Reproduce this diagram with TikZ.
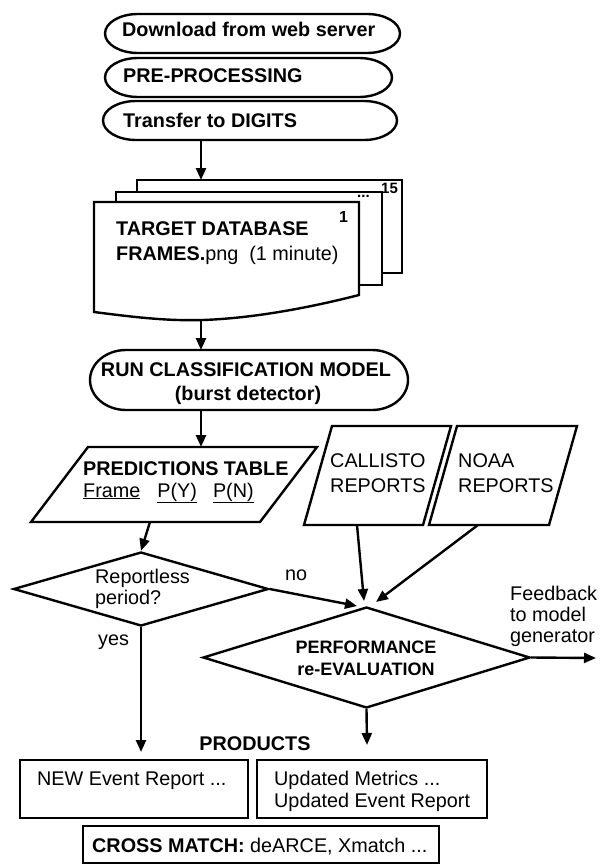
\documentclass[tikz,border=0pt]{standalone}
\usepackage{fontspec}
\setmainfont{Liberation Sans}
\usetikzlibrary{shapes.geometric,arrows.meta}
\begin{document}
\begin{tikzpicture}[x=1pt,y=-1pt,
  lw/.style={line width=2.4pt},
  txt/.style={inner sep=0pt,anchor=base west,font=\fontsize{19.8}{23}\selectfont},
  btxt/.style={inner sep=0pt,anchor=base west,font=\fontsize{19.8}{23}\selectfont\bfseries},
  dia/.style={draw,lw,diamond,inner sep=0pt},
  box/.style={draw,lw,rectangle,inner sep=0pt,fill=white},
  arr/.style={lw,-{Triangle[length=12pt,width=10pt]}},
]
\useasboundingbox (0,0) rectangle (601,864);

% top terminators
\draw[lw] (138,14) -- (367,14) arc[start angle=270,end angle=450,x radius=33,y radius=19.5]
  -- (138,53) arc[start angle=90,end angle=270,x radius=33,y radius=19.5] -- cycle;
\draw[lw] (138,58) -- (359,58) arc[start angle=270,end angle=450,x radius=33,y radius=19.5]
  -- (138,97) arc[start angle=90,end angle=270,x radius=33,y radius=19.5] -- cycle;
\draw[lw] (136,101) -- (364,101) arc[start angle=270,end angle=450,x radius=33,y radius=19.5]
  -- (136,140) arc[start angle=90,end angle=270,x radius=33,y radius=19.5] -- cycle;
\coordinate (t3bot) at (201,140);
\node[btxt] (t1txt) at (122,37) {Download from web server};
\node[btxt] (t2txt) at (123,83) {PRE-PROCESSING};
\node[btxt] (t3txt) at (123,128) {Transfer to DIGITS};

% document stack
\node[box,minimum width=265pt,minimum height=93pt] (page3) at (269.5,226.5) {};
\node[box,minimum width=266pt,minimum height=93pt] (page2) at (249,238.5) {};
\draw[lw,fill=white] (94,202) -- (359,202) -- (359,295)
  .. controls (320,305) and (260,318) .. (203,320)
  .. controls (170,321) and (140,318) .. (94,312) -- cycle;
\coordinate (stacktop) at (201,180);
\coordinate (frontbot) at (201,320);
\node[btxt,font=\fontsize{15}{16}\selectfont\bfseries] (n15) at (381,193) {15};
\node[btxt,font=\fontsize{15}{16}\selectfont\bfseries] (ndots) at (357,197) {...};
\node[btxt,font=\fontsize{16}{17}\selectfont\bfseries] (n1) at (339,222) {1};
\node[btxt] (tdb1) at (116,235) {TARGET DATABASE};
\node[txt] (tdb2) at (116,260) {\textbf{FRAMES.}png\ \ (1 minute)};

% classification
\draw[lw] (126,350) -- (372,350) arc[start angle=270,end angle=450,x radius=36,y radius=30]
  -- (126,410) arc[start angle=90,end angle=270,x radius=36,y radius=30] -- cycle;
\coordinate (clstop) at (201,350);
\coordinate (clsbot) at (201,410);
\node[btxt,anchor=base] (cls1) at (246,376) {RUN CLASSIFICATION MODEL};
\node[btxt,anchor=base] (cls2) at (248,400) {(burst detector)};

% predictions table
\draw[lw] (31,522) -- (88,447) -- (317,447) -- (260,522) -- cycle;
\coordinate (predtop) at (201,447);
\coordinate (predbot) at (150,522);
\node[btxt] (pt1) at (83,475) {PREDICTIONS TABLE};
\node[txt] (pt2) at (83,497) {\underline{Frame}\hspace{17pt}\underline{P(Y)}\hspace{16pt}\underline{P(N)}};

% reports
\draw[lw] (304,525) -- (332,426) -- (451,426) -- (423,525) -- cycle;
\draw[lw] (429,525) -- (457,426) -- (577,426) -- (549,525) -- cycle;
\coordinate (calbot) at (357,525);
\coordinate (noaabot) at (478,525);
\node[txt] (cal1) at (330,467) {CALLISTO};
\node[txt] (cal2) at (330,492) {REPORTS};
\node[txt] (noaa1) at (458,467) {NOAA};
\node[txt] (noaa2) at (458,492) {REPORTS};

% reportless diamond
\node[dia,minimum width=255pt,minimum height=74pt] (rep) at (141,589) {};
\node[txt] (rep1) at (95,583) {Reportless};
\node[txt] (rep2) at (95,604) {period?};
\node[txt] (no) at (285,580) {no};
\node[txt] (yes) at (98,645) {yes};

% performance diamond
\node[dia,minimum width=327pt,minimum height=101pt] (perf) at (366.5,657.5) {};
\node[btxt,anchor=base,font=\fontsize{18}{21}\selectfont\bfseries] (perf1) at (366,653) {PERFORMANCE};
\node[btxt,anchor=base,font=\fontsize{18}{21}\selectfont\bfseries] (perf2) at (366,675) {re-EVALUATION};
\coordinate (pin1) at (357,606);
\coordinate (pin2) at (364,601);
\coordinate (pin3) at (376,602);
\coordinate (fbend) at (596,658);
\node[txt] (fb1) at (510,600) {Feedback};
\node[txt] (fb2) at (510,621) {to model};
\node[txt] (fb3) at (510,642) {generator};

% products
\node[btxt,anchor=base] (prod) at (255,750) {PRODUCTS};
\node[box,minimum width=228pt,minimum height=58pt] (newbox) at (134,789) {};
\node[box,minimum width=230pt,minimum height=58pt] (updbox) at (372,789) {};
\node[box,minimum width=356pt,minimum height=37pt] (crossbox) at (261,844.5) {};
\node[txt] (newtxt) at (37,785) {NEW Event Report ...};
\node[txt] (upd1) at (274,785) {Updated Metrics ...};
\node[txt] (upd2) at (274,807) {Updated Event Report};
\node[txt] (crosstxt) at (92,852) {\textbf{CROSS MATCH:} deARCE, Xmatch ...};
\coordinate (yesend) at (141,752);
\coordinate (perfend) at (367,745);

% connectors
\draw[arr] (t3bot) -- (stacktop);
\draw[arr] (frontbot) -- (clstop);
\draw[arr] (clsbot) -- (predtop);
\draw[arr] (predbot) -- (rep.north);
\draw[arr] (rep.east) -- (pin1);
\draw[arr] (calbot) -- (pin2);
\draw[arr] (noaabot) -- (pin3);
\draw[arr] (perf.east) -- (fbend);
\draw[arr] (rep.south) -- (yesend);
\draw[arr] (perf.south) -- (perfend);
\end{tikzpicture}
\end{document}
